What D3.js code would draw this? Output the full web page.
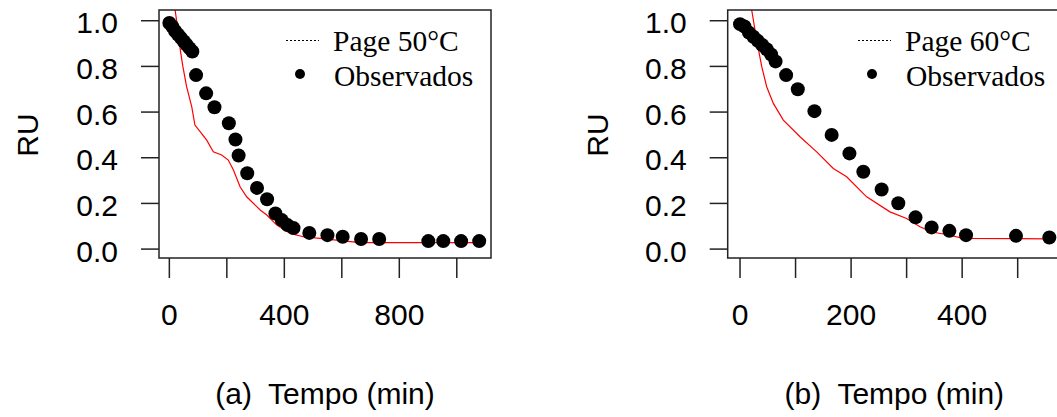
<!DOCTYPE html>
<html>
<head>
<meta charset="utf-8">
<script src="https://cdn.jsdelivr.net/npm/d3@7"></script>
<style>
  html, body { margin: 0; padding: 0; background: #fff; }
  svg { display: block; }
</style>
</head>
<body>
<svg id="chart" width="1057" height="417"></svg>
<script>
// Drying kinetics: moisture ratio (RU) vs. time, observed points and Page model fit

// Panel (a) 50 °C — observed
const timeA = [0, 10, 20, 30, 40, 50, 60, 70, 80, 93, 128, 157, 207, 230, 241, 271, 305, 340, 369, 391, 411, 432, 487, 550, 603, 667, 730, 901, 953, 1015, 1078];
const ruA   = [0.99, 0.975, 0.955, 0.94, 0.925, 0.91, 0.895, 0.88, 0.865, 0.762, 0.682, 0.621, 0.551, 0.480, 0.410, 0.332, 0.268, 0.218, 0.156, 0.127, 0.105, 0.092, 0.071, 0.061, 0.054, 0.044, 0.044, 0.035, 0.035, 0.035, 0.035];
// Panel (a) 50 °C — Page model curve
const fitTimeA = [10, 20, 31, 38, 47, 60, 78, 89, 107, 130, 153, 182, 205, 223, 246, 269, 316, 339, 374, 420, 466, 524, 605, 664, 1078];
const fitRuA   = [1.14, 1.047, 0.95, 0.872, 0.80, 0.711, 0.623, 0.543, 0.514, 0.477, 0.426, 0.412, 0.39, 0.346, 0.273, 0.229, 0.171, 0.149, 0.105, 0.069, 0.054, 0.047, 0.036, 0.028, 0.028];

// Panel (b) 60 °C — observed
const timeB = [0, 8, 16, 24, 32, 40, 48, 56, 64, 83, 104, 134, 165, 197, 222, 255, 285, 316, 345, 377, 407, 497, 557];
const ruB   = [0.985, 0.975, 0.948, 0.93, 0.912, 0.894, 0.875, 0.852, 0.822, 0.762, 0.70, 0.604, 0.50, 0.419, 0.339, 0.261, 0.201, 0.139, 0.095, 0.080, 0.061, 0.058, 0.051];
// Panel (b) 60 °C — Page model curve
const fitTimeB = [16, 21, 30, 39, 48, 60, 78, 108, 138, 168, 192, 228, 270, 300, 324, 345, 372, 402, 557];
const fitRuB   = [1.125, 1.047, 0.915, 0.80, 0.711, 0.638, 0.565, 0.492, 0.426, 0.353, 0.317, 0.229, 0.163, 0.134, 0.098, 0.075, 0.064, 0.047, 0.045];

// Axis ticks
const yTicks = [0, 0.2, 0.4, 0.6, 0.8, 1.0];
const xTicksA = [0, 200, 400, 600, 800, 1000];
const xLabelsA = [0, 400, 800];
const xTicksB = [0, 100, 200, 300, 400, 500];
const xLabelsB = [0, 200, 400];

const legendLabelA = "Page 50°C";
const legendLabelB = "Page 60°C";
const legendPoints = "Observados";
const yTitle = "RU";
const xTitleA = "(a)  Tempo (min)";
const xTitleB = "(b)  Tempo (min)";

const svg = d3.select("#chart");
const sans = "'Liberation Sans', Arial, sans-serif";
const serif = "'Liberation Serif', 'Times New Roman', serif";
const axisColor = "#222";

function panel(cfg) {
  const { left, right, top, bottom } = cfg.box;
  const x = d3.scaleLinear().domain(cfg.xDomain).range([left, right]);
  const y = d3.scaleLinear().domain([-0.039, 1.047]).range([bottom, top]);
  const g = svg.append("g");

  const clipId = "clip-" + cfg.id;
  g.append("clipPath").attr("id", clipId)
    .append("rect").attr("x", left).attr("y", top)
    .attr("width", right - left).attr("height", bottom - top);

  // Y axis: ticks and labels
  const yAxis = g.append("g");
  yAxis.selectAll("line").data(yTicks).join("line")
    .attr("x1", left - 18).attr("x2", left)
    .attr("y1", d => y(d)).attr("y2", d => y(d))
    .attr("stroke", axisColor).attr("stroke-width", 1.5);
  yAxis.selectAll("text").data(yTicks).join("text")
    .attr("x", left - 41).attr("y", d => y(d) + 12.5)
    .attr("text-anchor", "end")
    .attr("font-family", sans).attr("font-size", 30).attr("fill", "#000")
    .text(d => d3.format(".1f")(d));

  // X axis: ticks and labels
  const xAxis = g.append("g");
  xAxis.selectAll("line").data(cfg.xTicks).join("line")
    .attr("x1", d => x(d)).attr("x2", d => x(d))
    .attr("y1", bottom).attr("y2", bottom + 20)
    .attr("stroke", axisColor).attr("stroke-width", 1.5);
  xAxis.selectAll("text").data(cfg.xLabels).join("text")
    .attr("x", d => x(d)).attr("y", 325)
    .attr("text-anchor", "middle")
    .attr("font-family", sans).attr("font-size", 30).attr("fill", "#000")
    .text(d => d);

  // Axis titles
  g.append("text")
    .attr("transform", `translate(${cfg.ruX},135) rotate(-90)`)
    .attr("text-anchor", "middle")
    .attr("font-family", sans).attr("font-size", 30).attr("fill", "#000")
    .text(yTitle);
  g.append("text")
    .attr("x", (left + right) / 2).attr("y", 404)
    .attr("text-anchor", "middle")
    .style("white-space", "pre")
    .attr("font-family", sans).attr("font-size", 30).attr("fill", "#000")
    .text(cfg.xTitle);

  // Model curve
  const fit = cfg.fitT.map((t, i) => [t, cfg.fitR[i]]);
  g.append("path")
    .attr("clip-path", `url(#${clipId})`)
    .attr("d", d3.line().x(d => x(d[0])).y(d => y(d[1]))(fit))
    .attr("fill", "none").attr("stroke", "#ff0000").attr("stroke-width", 1.2);

  // Observed points
  const obs = cfg.t.map((t, i) => [t, cfg.r[i]]);
  g.append("g").attr("clip-path", `url(#${clipId})`)
    .selectAll("circle").data(obs).join("circle")
    .attr("cx", d => x(d[0])).attr("cy", d => y(d[1]))
    .attr("r", 7).attr("fill", "#000");

  // Plot frame
  g.append("rect")
    .attr("x", left).attr("y", top)
    .attr("width", right - left).attr("height", bottom - top)
    .attr("fill", "none").attr("stroke", axisColor).attr("stroke-width", 1.5);

  // Legend
  const lg = g.append("g");
  lg.append("line")
    .attr("x1", cfg.legX).attr("x2", cfg.legX + 33)
    .attr("y1", 40.5).attr("y2", 40.5)
    .attr("stroke", "#000").attr("stroke-width", 1.2)
    .attr("stroke-dasharray", "2,2");
  lg.append("circle")
    .attr("cx", cfg.legX + 14).attr("cy", 74).attr("r", 5).attr("fill", "#000");
  lg.append("text")
    .attr("x", cfg.legX + 47).attr("y", 51)
    .attr("font-family", serif).attr("font-size", 29.5).attr("fill", "#000")
    .text(cfg.legendLabel);
  lg.append("text")
    .attr("x", cfg.legX + 48).attr("y", 85.5)
    .attr("font-family", serif).attr("font-size", 29.5).attr("fill", "#000")
    .text(legendPoints);
}

panel({
  id: "a",
  box: { left: 159, right: 491, top: 10, bottom: 258 },
  xDomain: [-36, 1119],
  xTicks: xTicksA, xLabels: xLabelsA,
  t: timeA, r: ruA, fitT: fitTimeA, fitR: fitRuA,
  ruX: 38, xTitle: xTitleA,
  legX: 286, legendLabel: legendLabelA
});

panel({
  id: "b",
  box: { left: 727.7, right: 1061, top: 10, bottom: 258 },
  xDomain: [-22.2, 578],
  xTicks: xTicksB, xLabels: xLabelsB,
  t: timeB, r: ruB, fitT: fitTimeB, fitR: fitRuB,
  ruX: 608, xTitle: xTitleB,
  legX: 858, legendLabel: legendLabelB
});
</script>
</body>
</html>
